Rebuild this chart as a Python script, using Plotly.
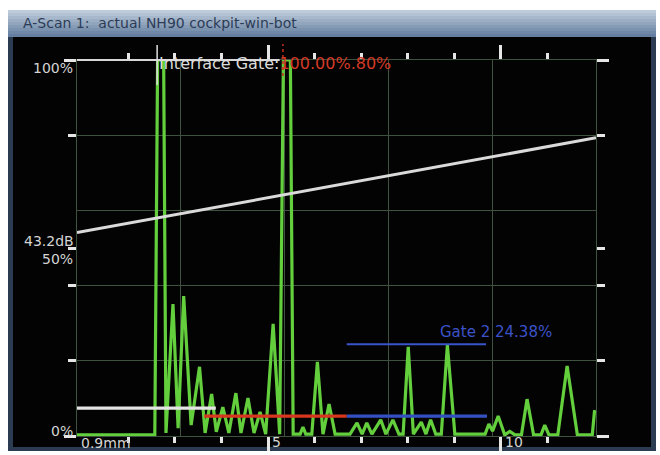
import numpy as np
import plotly.graph_objects as go

# ---------------- data ----------------
# A-scan: amplitude in % of full screen height against depth in mm
depth_mm = [0.9, 2.57, 2.63, 2.76, 2.81, 2.96, 3.07, 3.19, 3.35, 3.53,
            3.65, 3.79, 3.89, 4.03, 4.16, 4.31, 4.42, 4.57, 4.70, 4.83,
            4.95, 5.11, 5.25, 5.33, 5.48, 5.54, 5.69, 5.75, 5.81, 5.94,
            6.06, 6.18, 6.31, 6.44, 6.76, 6.91, 7.02, 7.12, 7.23, 7.34,
            7.42, 7.53, 7.68, 7.81, 7.90, 8.01, 8.12, 8.29, 8.39, 8.49,
            8.60, 8.72, 8.85, 9.01, 9.66, 9.74, 9.82, 9.94, 10.08, 10.19,
            10.30, 10.44, 10.56, 10.70, 10.86, 10.94, 11.03, 11.22, 11.42, 11.64,
            11.96, 12.01]
amplitude_pct = [0.3, 0.3, 100, 100, 0.8, 35.1, 2.1, 37.2, 2.9, 18.4,
                 0.8, 11.2, 1.1, 7.7, 0.8, 11.4, 0.8, 10.1, 0.8, 6.4,
                 0.5, 29.8, 0.5, 100, 100, 0.5, 0.5, 2.4, 0.5, 0.5,
                 19.7, 0.5, 8.5, 0.5, 0.5, 3.5, 0.5, 3.5, 0.5, 2.9,
                 4.3, 0.5, 4.3, 0.5, 0.5, 23.7, 0.5, 3.7, 0.5, 4.3,
                 0.5, 0.5, 24.2, 0.5, 0.5, 3.2, 1.3, 5.3, 0.3, 1.2,
                 0.3, 0.3, 9.8, 0.3, 0.3, 2.9, 0.3, 0.3, 18.6, 0.3,
                 0.3, 6.9]

# distance-amplitude correction curve
dac_mm = [0.9, 12.04]
dac_pct = [54.1, 79.3]

# gates: start, end, level (%)
gate_start = [0.9, 3.63, 6.69]
gate_end = [3.88, 6.69, 9.70]
gate_level = [7.4, 5.3, 5.3]
gate_color = ["#e4e4e4", "#d8361f", "#3451c4"]

# Gate 2 peak reading
gate2_peak_start = 6.69
gate2_peak_end = 9.68
gate2_peak_pct = 24.38

# interface gate at full screen height
iface_start = 0.9
iface_end = 5.25
iface_pct = 100

x_range = [0.9, 12.04]
y_range = [0, 100]

x_major_ticks = [5, 10]
x_major_labels = ["5", "10"]
x_minor_ticks = [2, 3, 4, 6, 7, 8, 9, 11]
y_major_ticks = [0, 100]
y_minor_ticks = [20, 40, 50, 80]
y_labels = ["0%", "50%", "100%"]
y_label_vals = [0, 50, 100]

# ---------------- styling ----------------
W, H = 660, 455
L, R, T, B = 77, 596, 60, 436
GREEN = "#63cf3d"
GRID = "#3f523f"
TICK = "#e6e6e6"
LABEL = "#d4d4d4"
FONT = "DejaVu Sans"


def px(xp):
    return (xp - L) / (R - L)


def py(yp):
    return (B - yp) / (B - T)


fig = go.Figure()

# echo trace
fig.add_trace(go.Scatter(x=depth_mm, y=amplitude_pct, mode="lines",
                         line=dict(color=GREEN, width=3.2), hoverinfo="skip"))
# DAC curve
fig.add_trace(go.Scatter(x=dac_mm, y=dac_pct, mode="lines",
                         line=dict(color="#dadada", width=3), hoverinfo="skip"))
# gates
for s, e, lvl, c in zip(gate_start, gate_end, gate_level, gate_color):
    fig.add_trace(go.Scatter(x=[s, e], y=[lvl, lvl], mode="lines",
                             line=dict(color=c, width=3.2), hoverinfo="skip"))
fig.add_trace(go.Scatter(x=[gate2_peak_start, gate2_peak_end],
                         y=[gate2_peak_pct, gate2_peak_pct], mode="lines",
                         line=dict(color="#3a55cc", width=2), hoverinfo="skip"))
# tick-carrying overlay axes
fig.add_trace(go.Scatter(x=[], y=[], xaxis="x2", yaxis="y2", hoverinfo="skip"))

shapes = []
# window frame
shapes.append(dict(type="rect", xref="paper", yref="paper", layer="below",
                   x0=px(8), x1=px(656), y0=py(451), y1=py(10),
                   fillcolor="#2a3b52", line=dict(width=0)))
# title bar gradient
top_c = np.array([0xbd, 0xcb, 0xdb])
bot_c = np.array([0x66, 0x7f, 0xa0])
n_strips = 9
for i in range(n_strips):
    f = i / (n_strips - 1)
    c = (top_c * (1 - f) + bot_c * f).astype(int)
    y0 = 10 + i * 3
    shapes.append(dict(type="rect", xref="paper", yref="paper", layer="below",
                       x0=px(8), x1=px(656), y0=py(y0 + 3), y1=py(y0),
                       fillcolor="rgb(%d,%d,%d)" % tuple(c), line=dict(width=0)))
# black scope screen
shapes.append(dict(type="rect", xref="paper", yref="paper", layer="below",
                   x0=px(13), x1=px(651), y0=py(447), y1=py(37),
                   fillcolor="#030303", line=dict(width=0)))
# interface gate line along the top
shapes.append(dict(type="line", xref="x", yref="paper", x0=iface_start, x1=iface_end,
                   y0=1, y1=1, line=dict(color="#d8d8d8", width=2)))
# interface trigger marker
shapes.append(dict(type="line", xref="x", yref="paper", x0=2.62, x1=2.62,
                   y0=py(85), y1=py(45), line=dict(color="#e0e0e0", width=1.5)))
# gate 1 start marker (red, dotted)
shapes.append(dict(type="line", xref="x", yref="paper", x0=5.32, x1=5.32,
                   y0=py(76), y1=py(44), line=dict(color="#c83020", width=1.5, dash="dot")))

annotations = []
annotations.append(dict(text="A-Scan 1:  actual NH90 cockpit-win-bot", xref="paper", yref="paper",
                        x=px(21), y=py(23), xanchor="left", yanchor="middle", showarrow=False,
                        font=dict(family=FONT, size=14, color="#2c3c56")))
label_shift = {0: 5, 50: -11, 100: -8}
for lab, v in zip(y_labels, y_label_vals):
    annotations.append(dict(text=lab, xref="paper", yref="y", x=px(75), y=v,
                            xanchor="right", yanchor="middle", yshift=label_shift[v],
                            showarrow=False,
                            font=dict(family=FONT, size=14, color=LABEL)))
annotations.append(dict(text="43.2dB", xref="paper", yref="y", x=px(76), y=50,
                        xanchor="right", yanchor="middle", yshift=7, showarrow=False,
                        font=dict(family=FONT, size=14, color=LABEL)))
annotations.append(dict(text="0.9mm", xref="x", yref="paper", x=x_range[0], y=0,
                        xanchor="left", yanchor="middle", xshift=2, yshift=-7, showarrow=False,
                        font=dict(family=FONT, size=14, color=LABEL)))
for v, lab in zip(x_major_ticks, x_major_labels):
    annotations.append(dict(text=lab, xref="x", yref="paper", x=v, y=0,
                            xanchor="left", yanchor="middle", xshift=2, yshift=-6,
                            showarrow=False,
                            font=dict(family=FONT, size=14, color=LABEL)))
annotations.append(dict(text="Interface Gate:<span style='color:#d43a26'>100.00%.80%</span>",
                        xref="paper", yref="paper",
                        x=px(157), y=py(64), xanchor="left", yanchor="middle", showarrow=False,
                        font=dict(family=FONT, size=16, color="#dcdcdc")))
annotations.append(dict(text="Gate 2 24.38%", xref="paper", yref="paper",
                        x=px(438), y=py(328), xanchor="left", yanchor="middle", yshift=-4,
                        showarrow=False,
                        font=dict(family=FONT, size=15, color="#3c52c8")))

grid_x = list(np.linspace(x_range[0], x_range[1], 6))

fig.update_layout(
    width=W, height=H, autosize=False,
    margin=dict(l=L, r=W - R, t=T, b=H - B, pad=0, autoexpand=False),
    paper_bgcolor="white", plot_bgcolor="#030303", showlegend=False,
    shapes=shapes, annotations=annotations,
    xaxis=dict(range=x_range, tickvals=grid_x, showticklabels=False, ticks="",
               showgrid=True, gridcolor=GRID, gridwidth=1.3, showline=True, automargin=False,
               linecolor=GRID, linewidth=1.3, mirror=True, zeroline=False, fixedrange=True),
    yaxis=dict(range=y_range, tickvals=[0, 20, 40, 60, 80, 100], showticklabels=False, ticks="",
               showgrid=True, gridcolor=GRID, gridwidth=1.3, showline=True, automargin=False,
               linecolor=GRID, linewidth=1.3, mirror=True, zeroline=False, fixedrange=True),
    xaxis2=dict(overlaying="x", anchor="y2", range=x_range, tickvals=x_major_ticks,
                showticklabels=False, ticks="outside", ticklen=14, tickwidth=3, tickcolor=TICK,
                minor=dict(tickvals=x_minor_ticks, ticks="outside", ticklen=6, tickwidth=3,
                           tickcolor=TICK), automargin=False,
                mirror="ticks", showline=False, showgrid=False, zeroline=False, fixedrange=True),
    yaxis2=dict(overlaying="y", anchor="x2", range=y_range, tickvals=y_major_ticks,
                showticklabels=False, ticks="outside", ticklen=12, tickwidth=3, tickcolor=TICK,
                minor=dict(tickvals=y_minor_ticks, ticks="outside", ticklen=8, tickwidth=3,
                           tickcolor=TICK), automargin=False,
                mirror="ticks", showline=False, showgrid=False, zeroline=False, fixedrange=True),
)

fig.write_html("out.html", config={"displayModeBar": False})
